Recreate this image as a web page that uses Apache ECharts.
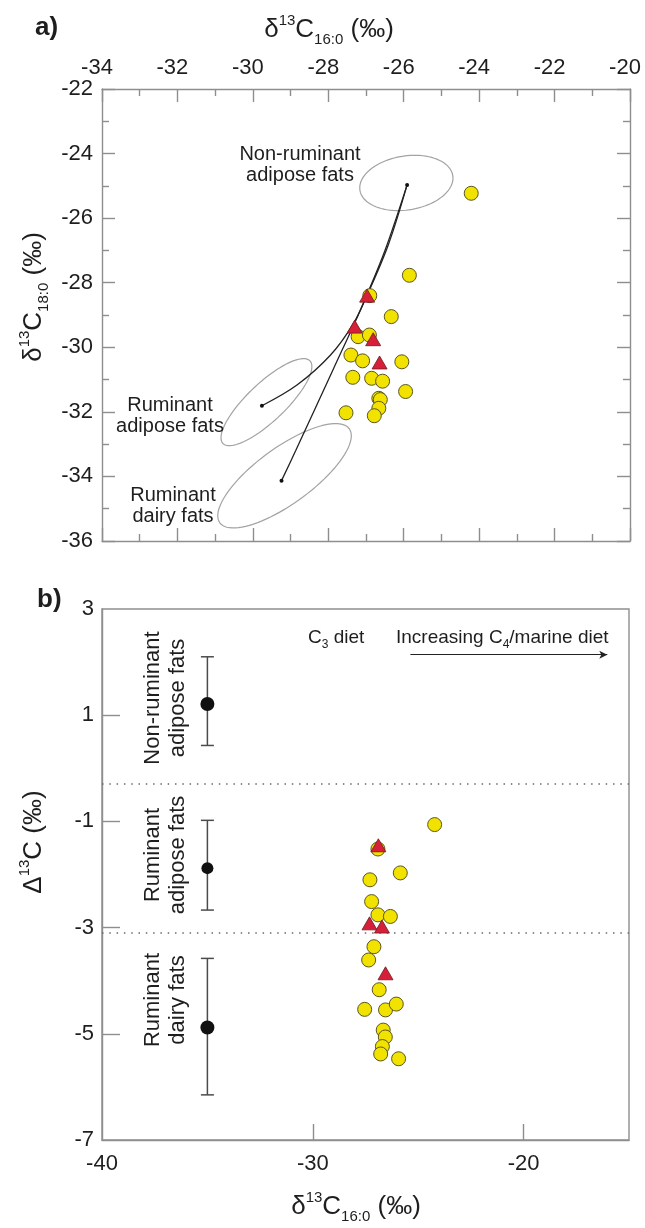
<!DOCTYPE html>
<html>
<head>
<meta charset="utf-8">
<script src="https://cdn.jsdelivr.net/npm/echarts@6/dist/echarts.min.js"></script>
<style>
  html, body { margin: 0; padding: 0; background: #ffffff; }
  #chart { width: 645px; height: 1228px; }
</style>
</head>
<body>
<div id="chart"></div>
<script>
// ---------- Panel a: δ13C16:0 vs δ13C18:0 ----------
const sherdC16 = [-24.21, -25.85, -26.90, -26.33, -27.21, -26.91, -27.40, -27.09, -26.05,
                  -27.35, -26.85, -26.56, -25.95, -26.66, -26.62, -26.66, -27.53, -26.78];
const sherdC18 = [-25.23, -27.77, -28.40, -29.05, -29.67, -29.62, -30.24, -30.42, -30.45,
                  -30.93, -30.96, -31.05, -31.37, -31.58, -31.62, -31.89, -32.03, -32.12];
const triC16 = [-26.97, -27.30, -26.81, -26.64];
const triC18 = [-28.40, -29.36, -29.75, -30.47];

// reference fat groups: mean points and ellipse centres
const refNames = ['Non-ruminant adipose fats', 'Ruminant adipose fats', 'Ruminant dairy fats'];
const refMeanC16 = [-25.91, -29.76, -29.24];
const refMeanC18 = [-24.97, -31.81, -34.13];
const ellipseC16 = [-25.93, -29.64, -29.16];
const ellipseC18 = [-24.91, -31.70, -33.98];

// mixing curves from non-ruminant mean to the ruminant means
const mixAdiposeC16 = [-25.91, -26.49, -26.99, -27.33, -27.94, -28.83, -29.76];
const mixAdiposeC18 = [-24.97, -26.98, -28.41, -29.26, -30.24, -31.17, -31.81];
const mixDairyC16 = [-25.91, -26.41, -26.99, -27.88, -28.86, -29.24];
const mixDairyC18 = [-24.97, -26.83, -28.44, -30.71, -33.19, -34.13];

// ---------- Panel b: Δ13C vs δ13C16:0 ----------
const bSherdC16 = [-24.22, -26.91, -25.85, -27.29, -27.21, -26.91, -26.32, -27.10, -27.35,
                   -26.85, -27.54, -26.55, -26.04, -26.66, -26.56, -26.70, -26.78, -25.93];
const bSherdDelta = [-1.06, -1.52, -1.97, -2.10, -2.51, -2.76, -2.79, -3.36, -3.61,
                     -4.17, -4.54, -4.55, -4.44, -4.93, -5.06, -5.24, -5.38, -5.47];
const bTriC16 = [-26.89, -27.31, -26.72, -26.55];
const bTriDelta = [-1.45, -2.92, -2.98, -3.86];

const refDeltaX = [-35, -35, -35];
const refDeltaMean = [1.21, -1.88, -4.88];
const refDeltaLow = [0.43, -2.67, -6.15];
const refDeltaHigh = [2.10, -0.98, -3.58];
const deltaBoundaries = [-0.3, -3.1];
const dietArrowX = [-25.37, -16.03];
const dietArrowY = 2.14;

// tick values
const aXTicks = { min: -34, max: -20, step: 2 };
const aYTicks = { min: -36, max: -22, step: 2 };
const bXLabels = [-40, -30, -20];
const bXTicks = [-30, -20];
const bYLabels = [3, 1, -1, -3, -5, -7];
const bYTicks = [1, -1, -3, -5];

// ---------- styles ----------
const FONT = "'Liberation Sans', Arial, Helvetica, sans-serif";
const AXIS_GRAY = '#8e8e8e';
const TEXT = '#1e1e1e';
const YELLOW = '#f2e200';
const RED = '#d81f3a';
// ellipse outlines in screen pixels: semi-axes and tilt (degrees)
const ELLIPSE_SHAPE = [
  { rx: 47, ry: 27, tilt: 9 },
  { rx: 60, ry: 19, tilt: 43.5 },
  { rx: 80, ry: 28, tilt: 36 }
];
const REF_DOT_SIZE = [14, 12, 14];

const zip = (a, b) => a.map((v, i) => [v, b[i]]);

function renderEllipse(params, api) {
  const c = api.coord([api.value(0), api.value(1)]);
  const s = ELLIPSE_SHAPE[params.dataIndex];
  const th = s.tilt * Math.PI / 180;
  const pts = [];
  for (let i = 0; i <= 90; i++) {
    const t = i / 90 * Math.PI * 2;
    const u = s.rx * Math.cos(t), v = s.ry * Math.sin(t);
    pts.push([c[0] + u * Math.cos(th) - v * Math.sin(th),
              c[1] - (u * Math.sin(th) + v * Math.cos(th))]);
  }
  return { type: 'polygon', shape: { points: pts },
           style: { fill: 'none', stroke: '#a3a3a3', lineWidth: 1.2 } };
}

function renderErrorBar(params, api) {
  const x = api.value(0);
  const top = api.coord([x, api.value(2)]);
  const bot = api.coord([x, api.value(1)]);
  const half = 6.5;
  const st = { stroke: '#4b4b4b', lineWidth: 1.5 };
  return {
    type: 'group',
    children: [
      { type: 'line', shape: { x1: top[0], y1: top[1], x2: bot[0], y2: bot[1] }, style: st },
      { type: 'line', shape: { x1: top[0] - half, y1: top[1], x2: top[0] + half, y2: top[1] }, style: st },
      { type: 'line', shape: { x1: bot[0] - half, y1: bot[1], x2: bot[0] + half, y2: bot[1] }, style: st }
    ]
  };
}

const lineStyleAxis = { color: AXIS_GRAY, width: 1.4 };
const labelStyle = { fontFamily: FONT, fontSize: 22, color: TEXT };

function boxAxis(extra) {
  return Object.assign({
    type: 'value',
    splitLine: { show: false },
    axisLine: { show: true, onZero: false, lineStyle: lineStyleAxis },
    axisTick: { show: true, inside: true, length: 13, lineStyle: lineStyleAxis },
    minorTick: { show: true, splitNumber: 2, length: 7, lineStyle: lineStyleAxis },
    axisLabel: { show: false }
  }, extra);
}

const titleRich = {
  m: { fontFamily: FONT, fontSize: 26, lineHeight: 34, fill: TEXT, color: TEXT },
  sup: { fontFamily: FONT, fontSize: 15, lineHeight: 20, verticalAlign: 'top', fill: TEXT, color: TEXT },
  sub: { fontFamily: FONT, fontSize: 15, lineHeight: 16, verticalAlign: 'bottom', fill: TEXT, color: TEXT }
};
const noteRich = {
  m: { fontFamily: FONT, fontSize: 19, lineHeight: 26, fill: TEXT, color: TEXT },
  sub: { fontFamily: FONT, fontSize: 12, lineHeight: 12, verticalAlign: 'bottom', fill: TEXT, color: TEXT }
};

function textEl(x, y, text, opts) {
  opts = opts || {};
  return {
    type: 'text', x: x, y: y, rotation: opts.rotation || 0, z: 100,
    style: Object.assign({
      text: text, fill: TEXT, fontFamily: FONT, fontSize: opts.fontSize || 20,
      fontWeight: opts.fontWeight || 'normal',
      lineHeight: opts.lineHeight || 21,
      align: opts.align || 'center', textAlign: opts.align || 'center',
      verticalAlign: 'middle', textVerticalAlign: 'middle'
    }, opts.rich ? { rich: opts.rich } : {})
  };
}

const chart = echarts.init(document.getElementById('chart'), null, { renderer: 'canvas' });

chart.setOption({
  animation: false,
  backgroundColor: '#ffffff',
  textStyle: { fontFamily: FONT },
  grid: [
    { left: 102, right: 15, top: 89, height: 452, outerBoundsMode: 'none', containLabel: false },
    { left: 102, right: 16, top: 609, height: 531, outerBoundsMode: 'none', containLabel: false,
      show: true, borderColor: AXIS_GRAY, borderWidth: 1.4 }
  ],
  xAxis: [
    boxAxis({ gridIndex: 0, position: 'top', min: aXTicks.min, max: aXTicks.max, interval: aXTicks.step,
      axisLabel: Object.assign({ show: true, margin: 10, padding: [0, 10, 0, 0] }, labelStyle) }),
    boxAxis({ gridIndex: 0, position: 'bottom', min: aXTicks.min, max: aXTicks.max, interval: aXTicks.step }),
    {
      type: 'value', gridIndex: 1, position: 'bottom', min: -40, max: -15,
      splitLine: { show: false },
      axisLine: { show: true, onZero: false, lineStyle: lineStyleAxis },
      axisTick: { show: true, inside: true, length: 16, customValues: bXTicks, lineStyle: lineStyleAxis },
      axisLabel: Object.assign({ show: true, margin: 13, customValues: bXLabels }, labelStyle)
    }
  ],
  yAxis: [
    boxAxis({ gridIndex: 0, position: 'left', min: aYTicks.min, max: aYTicks.max, interval: aYTicks.step,
      axisLabel: Object.assign({ show: true, margin: 9 }, labelStyle) }),
    boxAxis({ gridIndex: 0, position: 'right', min: aYTicks.min, max: aYTicks.max, interval: aYTicks.step }),
    {
      type: 'value', gridIndex: 1, position: 'left', min: -7, max: 3,
      splitLine: { show: false },
      axisLine: { show: true, onZero: false, lineStyle: lineStyleAxis },
      axisTick: { show: true, inside: true, length: 18, customValues: bYTicks, lineStyle: lineStyleAxis },
      axisLabel: Object.assign({ show: true, margin: 8, customValues: bYLabels }, labelStyle)
    }
  ],
  series: [
    // ---- panel a ----
    {
      type: 'custom', name: 'ellipses', xAxisIndex: 0, yAxisIndex: 0, z: 1,
      renderItem: renderEllipse, encode: { x: 0, y: 1 },
      data: zip(ellipseC16, ellipseC18), silent: true
    },
    {
      type: 'line', name: 'mix adipose', xAxisIndex: 0, yAxisIndex: 0, z: 2,
      data: zip(mixAdiposeC16, mixAdiposeC18), smooth: 0.35, showSymbol: false, symbol: 'none',
      lineStyle: { color: '#222', width: 1.3 }, silent: true
    },
    {
      type: 'line', name: 'mix dairy', xAxisIndex: 0, yAxisIndex: 0, z: 2,
      data: zip(mixDairyC16, mixDairyC18), smooth: 0.35, showSymbol: false, symbol: 'none',
      lineStyle: { color: '#222', width: 1.3 }, silent: true
    },
    {
      type: 'scatter', name: 'reference means', xAxisIndex: 0, yAxisIndex: 0, z: 3,
      data: zip(refMeanC16, refMeanC18), symbolSize: 4,
      itemStyle: { color: '#111', opacity: 1 }
    },
    {
      type: 'scatter', name: 'sherds', xAxisIndex: 0, yAxisIndex: 0, z: 4,
      data: zip(sherdC16, sherdC18), symbol: 'circle', symbolSize: 14,
      itemStyle: { color: YELLOW, borderColor: '#5b5620', borderWidth: 1, opacity: 1 }
    },
    {
      type: 'scatter', name: 'sherds (triangles)', xAxisIndex: 0, yAxisIndex: 0, z: 5,
      data: zip(triC16, triC18), symbol: 'triangle', symbolSize: [15, 13],
      itemStyle: { color: RED, borderColor: '#6b1b1b', borderWidth: 0.8, opacity: 1 }
    },
    // ---- panel b ----
    {
      type: 'custom', name: 'reference ranges', xAxisIndex: 2, yAxisIndex: 2, z: 2,
      renderItem: renderErrorBar, encode: { x: 0, y: [1, 2] },
      data: refDeltaX.map((x, i) => [x, refDeltaLow[i], refDeltaHigh[i]]), silent: true
    },
    {
      type: 'scatter', name: 'reference Δ means', xAxisIndex: 2, yAxisIndex: 2, z: 3,
      data: refDeltaX.map((x, i) => ({ value: [x, refDeltaMean[i]], symbolSize: REF_DOT_SIZE[i] })),
      itemStyle: { color: '#111', opacity: 1 }
    },
    {
      type: 'scatter', name: 'sherds Δ', xAxisIndex: 2, yAxisIndex: 2, z: 4,
      data: zip(bSherdC16, bSherdDelta), symbol: 'circle', symbolSize: 14,
      itemStyle: { color: YELLOW, borderColor: '#5b5620', borderWidth: 1, opacity: 1 },
      markLine: {
        silent: true, symbol: ['none', 'none'], label: { show: false },
        lineStyle: { color: '#6a6a6a', width: 1.6, type: [1.5, 5.8] },
        data: deltaBoundaries.map(v => ({ yAxis: v }))
      }
    },
    {
      type: 'scatter', name: 'sherds Δ (triangles)', xAxisIndex: 2, yAxisIndex: 2, z: 5,
      data: zip(bTriC16, bTriDelta), symbol: 'triangle', symbolSize: [15, 13],
      itemStyle: { color: RED, borderColor: '#6b1b1b', borderWidth: 0.8, opacity: 1 },
      markLine: {
        silent: true, symbol: ['none', 'arrow'], symbolSize: [6, 8], label: { show: false },
        lineStyle: { color: '#222', width: 1, type: 'solid' },
        data: [[{ coord: [dietArrowX[0], dietArrowY] }, { coord: [dietArrowX[1], dietArrowY] }]]
      }
    }
  ],
  graphic: [
    textEl(35, 28, 'a)', { fontSize: 26, fontWeight: 'bold', align: 'left' }),
    textEl(37, 600, 'b)', { fontSize: 26, fontWeight: 'bold', align: 'left' }),
    textEl(329, 30, '{m|δ}{sup|13}{m|C}{sub|16:0}{m| (‰)}', { rich: titleRich }),
    textEl(34, 297, '{m|δ}{sup|13}{m|C}{sub|18:0}{m| (‰)}', { rich: titleRich, rotation: Math.PI / 2 }),
    textEl(34, 842, '{m|Δ}{sup|13}{m|C (‰)}', { rich: titleRich, rotation: Math.PI / 2 }),
    textEl(356, 1207, '{m|δ}{sup|13}{m|C}{sub|16:0}{m| (‰)}', { rich: titleRich }),
    textEl(300, 165, 'Non-ruminant\nadipose fats', { fontSize: 20, lineHeight: 21 }),
    textEl(170, 416, 'Ruminant\nadipose fats', { fontSize: 20, lineHeight: 21.5 }),
    textEl(173, 506, 'Ruminant\ndairy fats', { fontSize: 20, lineHeight: 21.5 }),
    textEl(165, 698, 'Non-ruminant\nadipose fats', { fontSize: 22, lineHeight: 25, rotation: Math.PI / 2 }),
    textEl(165, 855, 'Ruminant\nadipose fats', { fontSize: 22, lineHeight: 25, rotation: Math.PI / 2 }),
    textEl(165, 1000, 'Ruminant\ndairy fats', { fontSize: 22, lineHeight: 25, rotation: Math.PI / 2 }),
    textEl(308, 638, '{m|C}{sub|3}{m| diet}', { rich: noteRich, align: 'left' }),
    textEl(396, 638, '{m|Increasing C}{sub|4}{m|/marine diet}', { rich: noteRich, align: 'left' })
  ]
});
</script>
</body>
</html>
